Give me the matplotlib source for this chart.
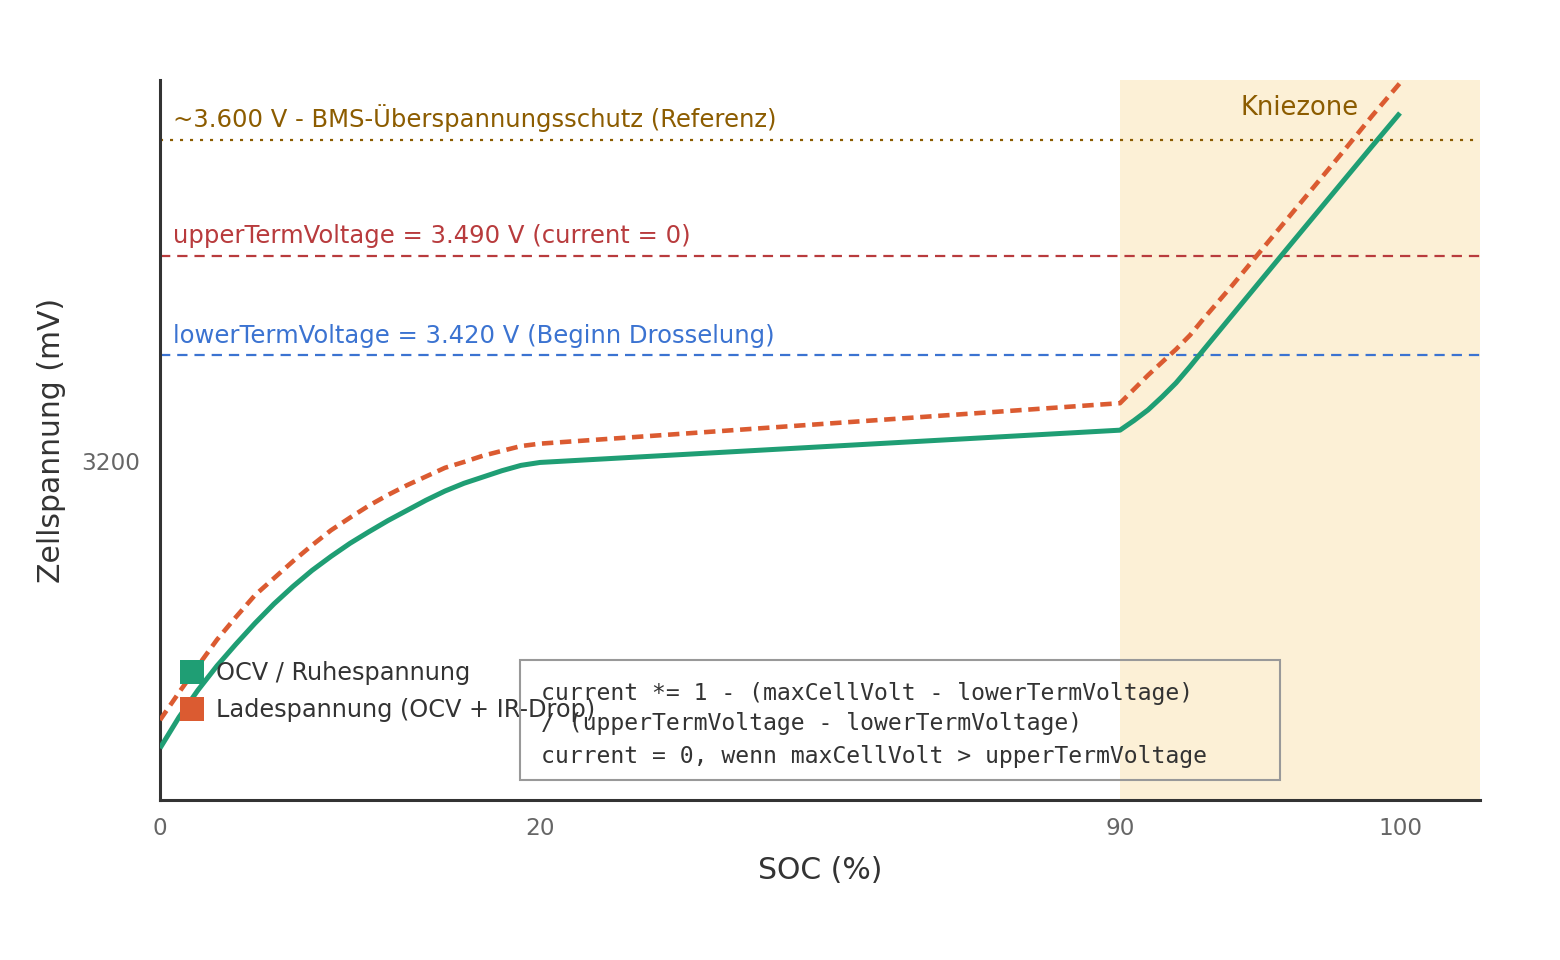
import numpy as np
import matplotlib
matplotlib.use('Agg')
import matplotlib.pyplot as plt
from matplotlib.patches import Patch, Rectangle
from matplotlib.transforms import blended_transform_factory

GREEN = '#1f9e74'
ORANGE = '#db5b31'
GOLD = '#8c5c00'
RED = '#b83b3d'
BLUE = '#3b73d1'
KNEE = '#fcf0d6'
INK = '#333333'
INK_SOFT = '#666666'
BOX = '#999999'

plt.rcParams['font.family'] = ['DejaVu Sans']
plt.rcParams['lines.scale_dashes'] = False

# SOC (%) samples and read-off cell voltages (mV)
soc = [0, 1, 2, 3, 4, 5, 6, 7, 8, 9, 10, 11, 12, 13, 14, 15, 16, 17, 18, 19, 20,
       90, 90.5, 91, 91.5, 92, 92.5, 93, 94, 95, 96, 97, 98, 99, 100]
ocv_mv = [2607, 2671, 2727, 2777, 2822, 2865, 2905, 2941, 2974, 3003, 3030,
          3054, 3077, 3098, 3119, 3138, 3154, 3167, 3180, 3191, 3197,
          3264, 3284, 3306, 3333, 3362, 3396, 3424, 3448, 3472, 3498, 3530,
          3562, 3594, 3627]
charge_mv = [2665, 2722, 2777, 2831, 2878, 2923, 2958, 2993, 3026, 3057, 3083,
             3108, 3130, 3150, 3168, 3186, 3198, 3211, 3221, 3231, 3236,
             3320, 3349, 3378, 3405, 3424, 3434, 3446, 3469, 3494, 3526, 3558,
             3590, 3624, 3657]

x_ticks = [0, 20, 90, 100]
y_ticks = [3200]

ref_mv = [3600, 3490, 3420]
ref_labels = ['~3.600 V - BMS-Überspannungsschutz (Referenz)',
              'upperTermVoltage = 3.490 V (current = 0)',
              'lowerTermVoltage = 3.420 V (Beginn Drosselung)']
ref_colors = [GOLD, RED, BLUE]
ref_dashes = [(2.2, 5.0), (7.4, 5.0), (7.4, 5.0)]

knee_start = 90
formula_lines = ['current *= 1 - (maxCellVolt - lowerTermVoltage)',
                 '/ (upperTermVoltage - lowerTermVoltage)',
                 'current = 0, wenn maxCellVolt > upperTermVoltage']

# piecewise axis scales (the chart stretches the knee and the plateau differently)
X_ANCH = [-10, 0, 20, 90, 100, 120]
X_POS = [-190, 0, 380, 960, 1240, 1800]
Y_ANCH = [2000, 2500, 3200, 3420, 3490, 3600, 3660, 3800]
Y_POS = [-242, 0, 339, 445, 544, 660, 720, 860]


def fwd_x(v):
    return np.interp(v, X_ANCH, X_POS)


def inv_x(p):
    return np.interp(p, X_POS, X_ANCH)


def fwd_y(v):
    return np.interp(v, Y_ANCH, Y_POS)


def inv_y(p):
    return np.interp(p, Y_POS, Y_ANCH)


x_max = 100 + 80 / 28

fig = plt.figure(figsize=(15.6, 9.6), dpi=100)
ax = fig.add_axes([160 / 1560, 160 / 960, 1320 / 1560, 720 / 960])
ax.set_xscale('function', functions=(fwd_x, inv_x))
ax.set_yscale('function', functions=(fwd_y, inv_y))
ax.set_xlim(0, x_max)
ax.set_ylim(2500, 3660)

ax.axvspan(knee_start, x_max, color=KNEE, lw=0, zorder=0)
knee_tr = blended_transform_factory(ax.transData, ax.transAxes)
ax.text((knee_start + x_max) / 2, 685 / 720, 'Kniezone', transform=knee_tr,
        ha='center', va='baseline', fontsize=18.6, color=GOLD, zorder=3)

lab_tr = blended_transform_factory(ax.transAxes, ax.transData)
for val, lab, col, ds in zip(ref_mv, ref_labels, ref_colors, ref_dashes):
    ax.axhline(val, color=col, lw=1.6, dashes=ds, zorder=2)
    ax.annotate(lab, xy=(0, val), xycoords=lab_tr, xytext=(9.5, 9),
                textcoords='offset points', ha='left', va='baseline',
                fontsize=17.5, color=col, zorder=3)

ax.plot(soc, ocv_mv, color=GREEN, lw=3.6, solid_capstyle='butt',
        solid_joinstyle='round', zorder=4)
ax.plot(soc, charge_mv, color=ORANGE, lw=3.3, dashes=(8.2, 4.8), zorder=5)

for side in ['top', 'right']:
    ax.spines[side].set_visible(False)
for side in ['left', 'bottom']:
    ax.spines[side].set_color(INK)
    ax.spines[side].set_linewidth(2.2)

ax.set_xticks(x_ticks)
ax.set_xticklabels([str(t) for t in x_ticks])
ax.set_yticks(y_ticks)
ax.set_yticklabels([str(t) for t in y_ticks])
ax.minorticks_off()
ax.tick_params(length=0, labelsize=16.7, colors=INK_SOFT)
ax.tick_params(axis='x', pad=12)
ax.tick_params(axis='y', pad=14)
ax.set_xlabel('SOC (%)', fontsize=21.5, color=INK, labelpad=12)
ax.set_ylabel('Zellspannung (mV)', fontsize=21.5, color=INK, labelpad=11.5)

handles = [Patch(facecolor=GREEN, edgecolor='none', label='OCV / Ruhespannung'),
           Patch(facecolor=ORANGE, edgecolor='none', label='Ladespannung (OCV + IR-Drop)')]
ax.legend(handles=handles, loc='upper left', bbox_to_anchor=(20 / 1320, 140 / 720),
          frameon=False, fontsize=17.3, labelcolor=INK, handlelength=1.0,
          handleheight=1.16, handletextpad=0.5, labelspacing=0.49,
          borderpad=0, borderaxespad=0)

ax.add_patch(Rectangle((360 / 1320, 20 / 720), 760 / 1320, 120 / 720,
                       transform=ax.transAxes, fill=False, edgecolor=BOX,
                       lw=1.5, zorder=6))
for line, yb in zip(formula_lines, [100, 70, 37]):
    ax.text(381 / 1320, yb / 720, line, transform=ax.transAxes, ha='left',
            va='baseline', fontsize=16.7, family='DejaVu Sans Mono',
            color=INK, zorder=7)

fig.savefig('out.png', dpi=100)
